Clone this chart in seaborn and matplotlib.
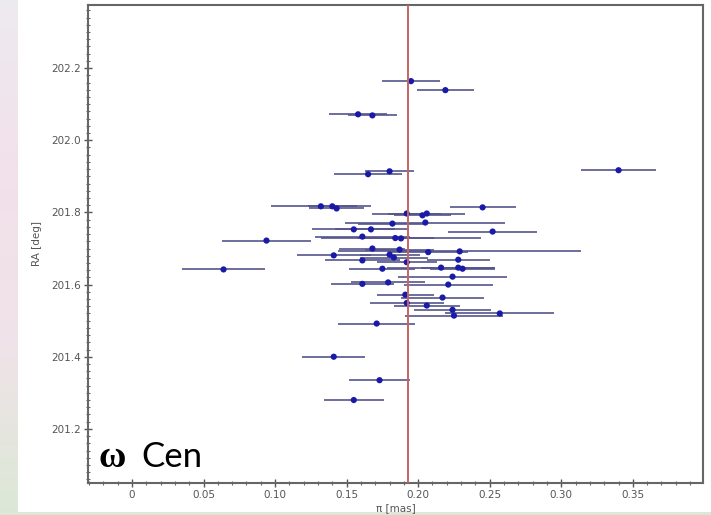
import numpy as np
import matplotlib
matplotlib.use("Agg")
import matplotlib.pyplot as plt
from matplotlib.patches import Rectangle
from matplotlib.ticker import MultipleLocator, FuncFormatter
import seaborn as sns

# Parallax (mas), its 1-sigma error, and right ascension (deg) of the stars
parallax = [0.195, 0.219, 0.158, 0.168, 0.180, 0.165, 0.340, 0.132, 0.140, 0.143,
            0.245, 0.192, 0.203, 0.206, 0.182, 0.205, 0.155, 0.167, 0.094, 0.161,
            0.184, 0.188, 0.252, 0.168, 0.187, 0.207, 0.229, 0.141, 0.180, 0.183,
            0.228, 0.161, 0.192, 0.064, 0.175, 0.216, 0.228, 0.231, 0.224, 0.161,
            0.179, 0.221, 0.191, 0.217, 0.192, 0.206, 0.224, 0.257, 0.225, 0.171,
            0.141, 0.173, 0.155]
parallax_err = [0.020, 0.020, 0.020, 0.017, 0.017, 0.024, 0.026, 0.035, 0.017, 0.019,
                0.023, 0.024, 0.020, 0.027, 0.024, 0.056, 0.029, 0.025, 0.031, 0.033,
                0.027, 0.056, 0.031, 0.023, 0.024, 0.028, 0.085, 0.026, 0.021, 0.024,
                0.022, 0.026, 0.021, 0.029, 0.023, 0.038, 0.026, 0.023, 0.038, 0.022,
                0.026, 0.031, 0.020, 0.029, 0.026, 0.023, 0.027, 0.038, 0.034, 0.027,
                0.022, 0.021, 0.021]
ra_deg = [202.164, 202.139, 202.072, 202.069, 201.914, 201.906, 201.917, 201.817, 201.817, 201.811,
          201.814, 201.797, 201.792, 201.797, 201.769, 201.772, 201.753, 201.753, 201.722, 201.733,
          201.729, 201.728, 201.747, 201.700, 201.697, 201.690, 201.692, 201.681, 201.683, 201.675,
          201.669, 201.667, 201.662, 201.642, 201.644, 201.647, 201.647, 201.644, 201.622, 201.602,
          201.606, 201.600, 201.572, 201.564, 201.549, 201.542, 201.530, 201.520, 201.514, 201.492,
          201.400, 201.335, 201.280]
mean_parallax = 0.193

x_ticks = [0, 0.05, 0.10, 0.15, 0.20, 0.25, 0.30, 0.35]
y_ticks = [201.2, 201.4, 201.6, 201.8, 202.0, 202.2]

sns.set_style("white")
plt.rcParams["font.family"] = ["DejaVu Sans"]

W, H = 711, 515
fig = plt.figure(figsize=(W / 100, H / 100), dpi=100)

# soft slide backdrop behind the white panel
bg = fig.add_axes([0, 0, 1, 1], zorder=-10)
stops = np.array([[0.93, 0.92, 0.94], [0.95, 0.88, 0.92], [0.94, 0.89, 0.91], [0.86, 0.91, 0.84]])
t = np.linspace(0, 1, 200)
grad = np.stack([np.interp(t, np.linspace(0, 1, len(stops)), stops[:, c]) for c in range(3)], axis=-1)
bg.imshow(grad[:, None, :], aspect="auto", extent=[0, 1, 0, 1])
bg.axis("off")
fig.patches.append(Rectangle((18 / W, 3 / H), 1 - 18 / W, 1 - 3 / H,
                             transform=fig.transFigure, facecolor="white",
                             edgecolor="none", zorder=-5))

ax = fig.add_axes([88 / W, 1 - 483 / H, (703 - 88) / W, (483 - 5) / H])
ax.set_facecolor("white")

ax.errorbar(parallax, ra_deg, xerr=parallax_err, fmt="none",
            ecolor="#55558c", elinewidth=1.2, capsize=0, zorder=2)
sns.scatterplot(x=parallax, y=ra_deg, ax=ax, color="#1a1aa8", s=20,
                edgecolor="none", linewidth=0, zorder=3)
ax.axvline(mean_parallax, color="#c46464", lw=1.4, zorder=4)

ax.set_xlim(-0.0307, 0.399)
ax.set_ylim(201.05, 202.375)
ax.set_xticks(x_ticks)
ax.set_yticks(y_ticks)
ax.xaxis.set_minor_locator(MultipleLocator(0.01))
ax.yaxis.set_minor_locator(MultipleLocator(0.02))
ax.xaxis.set_major_formatter(FuncFormatter(lambda v, p: "0" if abs(v) < 1e-9 else f"{v:.2f}"))
ax.yaxis.set_major_formatter(FuncFormatter(lambda v, p: f"{v:.1f}"))
ax.tick_params(which="major", direction="inout", length=6, width=1.0, color="#555555",
               labelsize=7.5, labelcolor="#555555", bottom=True, left=True, pad=2)
ax.tick_params(which="minor", direction="inout", length=3, width=0.8, color="#666666",
               bottom=True, left=True)
for s in ax.spines.values():
    s.set_color("#666666")
    s.set_linewidth(1.5)

ax.set_xlabel("π [mas]", fontsize=7.5, color="#555555", labelpad=2)
ax.set_ylabel("RA [deg]", fontsize=7.5, color="#555555", labelpad=7)

fig.text(99 / W, (H - 467) / H, "ω", fontfamily="Liberation Serif", fontweight="bold",
         fontsize=27, va="baseline", color="black")
fig.text(141 / W, (H - 467) / H, "Cen", fontfamily="Lato", fontsize=25,
         va="baseline", color="black")

fig.savefig("out.png", dpi=100)
